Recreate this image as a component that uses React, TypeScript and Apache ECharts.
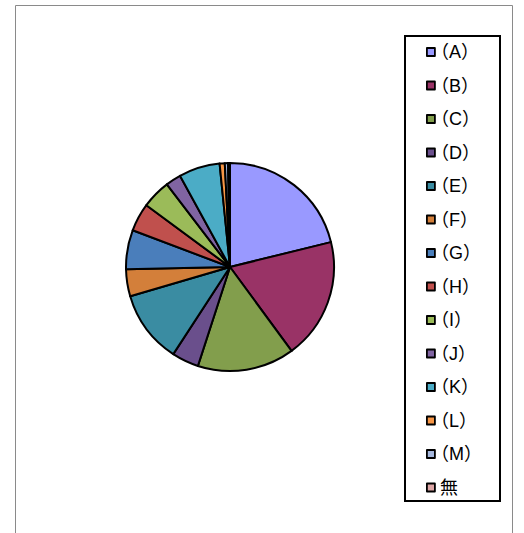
import React, { useEffect, useRef } from "react";
import * as echarts from "echarts";

const categories = ["（A）", "（B）", "（C）", "（D）", "（E）", "（F）", "（G）", "（H）", "（I）", "（J）", "（K）", "（L）", "（M）", "無"];
const values = [21.2, 18.8, 15.1, 4.2, 11.3, 4.2, 6.1, 4.4, 4.5, 2.4, 6.4, 0.8, 0.5, 0.3];
const colors = ["#9999FF", "#993366", "#829E4C", "#6A4F8C", "#3A8CA2", "#D37F3A", "#4A7EBB", "#C0504D", "#9BBB59", "#8064A2", "#4BACC6", "#F79646", "#A6B8DE", "#DDA6A6"];

export default function App() {
  const ref = useRef<HTMLDivElement>(null);
  useEffect(() => {
    const chart = echarts.init(ref.current!, null, { renderer: "svg" });
    chart.setOption({
      animation: false,
      color: colors,
      graphic: [
        {
          type: "rect",
          shape: { x: 15.5, y: 5.5, width: 497, height: 600 },
          style: { fill: "none", stroke: "#8a8a8a", lineWidth: 1 },
          silent: true,
        },
        {
          type: "rect",
          shape: { x: 405, y: 36, width: 95, height: 465 },
          style: { fill: "#fff", stroke: "#000", lineWidth: 2 },
          silent: true,
          z: -1,
        },
      ],
      legend: {
        orient: "vertical",
        left: 426,
        top: 43,
        padding: 0,
        itemWidth: 8,
        itemHeight: 8,
        itemGap: 15.5,
        icon: "rect",
        selectedMode: false,
        itemStyle: { borderColor: "#000", borderWidth: 1.8 },
        textStyle: {
          fontFamily: "'Liberation Sans', 'Noto Sans CJK JP'",
          fontSize: 18,
          lineHeight: 18,
          color: "#000",
        },
        data: categories.map((name) =>
          name.startsWith("（")
            ? { name, textStyle: { padding: [0, 0, 0, -9] } }
            : { name, textStyle: { padding: [0, 0, 0, 0] } }
        ),
      },
      series: [
        {
          type: "pie",
          center: [230, 267],
          radius: 104,
          startAngle: 90,
          clockwise: true,
          label: { show: false },
          labelLine: { show: false },
          emphasis: { disabled: true },
          itemStyle: { borderColor: "#000", borderWidth: 2 },
          data: categories.map((name, i) => ({ name, value: values[i] })),
        },
      ],
    });
    return () => chart.dispose();
  }, []);
  return (
    <div
      ref={ref}
      style={{ position: "fixed", left: 0, top: 0, width: 524, height: 533, background: "#fff" }}
    />
  );
}
